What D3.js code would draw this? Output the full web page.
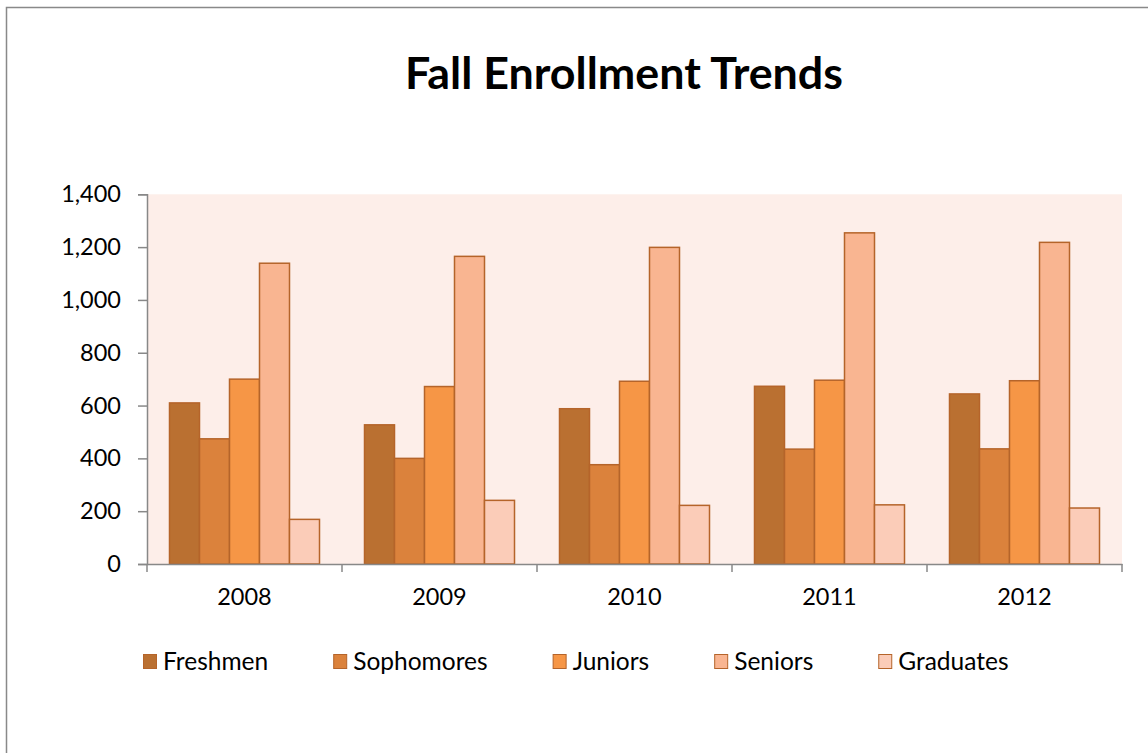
<!DOCTYPE html>
<html>
<head>
<meta charset="utf-8">
<script src="https://cdn.jsdelivr.net/npm/d3@7"></script>
<style>
  html, body { margin: 0; padding: 0; background: #ffffff; }
  svg { display: block; }
  text { font-family: Lato, "Open Sans", sans-serif; fill: #000; }
</style>
</head>
<body>
<svg id="chart" width="1148" height="753"></svg>
<script>
const title = "Fall Enrollment Trends";
const years = ["2008", "2009", "2010", "2011", "2012"];
const seriesNames = ["Freshmen", "Sophomores", "Juniors", "Seniors", "Graduates"];
const freshmen   = [610, 527, 588, 673, 644];
const sophomores = [474, 400, 376, 435, 436];
const juniors    = [700, 672, 692, 696, 694];
const seniors    = [1139, 1165, 1199, 1254, 1218];
const graduates  = [169, 241, 222, 224, 212];
const yTicks = [0, 200, 400, 600, 800, 1000, 1200, 1400];
const seriesColors = ["#BA7031", "#DB823C", "#F69646", "#F9B591", "#FBCCB8"];

const seriesValues = [freshmen, sophomores, juniors, seniors, graduates];

(function () {
const svg = d3.select("#chart");

// outer chart border
svg.append("rect")
  .attr("x", 6.5).attr("y", 7.5)
  .attr("width", 1170).attr("height", 780)
  .attr("fill", "none").attr("stroke", "#898989").attr("stroke-width", 1.5);

// title
const t = svg.append("text")
  .attr("x", 624).attr("y", 89)
  .attr("text-anchor", "middle")
  .style("font-weight", "bold")
  .style("font-size", "38px")
  .text(title);
const tw = t.node().getComputedTextLength();
t.style("font-size", (38 * 438 / tw).toFixed(2) + "px");

const pLeft = 147, pRight = 1122, pTop = 194.3, pBottom = 564;

const x0 = d3.scaleBand().domain(years).range([pLeft, pRight]).paddingInner(0).paddingOuter(0);
const x1 = d3.scaleBand().domain(seriesNames).range([0, x0.bandwidth()]).paddingInner(0).paddingOuter(0.75);
const y = d3.scaleLinear().domain([0, 1400]).range([pBottom, pTop]);

// plot background
svg.append("rect")
  .attr("x", pLeft).attr("y", pTop)
  .attr("width", pRight - pLeft).attr("height", pBottom - pTop)
  .attr("fill", "#FDEEE9");

// bars
const groups = svg.append("g").selectAll("g")
  .data(years)
  .join("g")
  .attr("transform", d => `translate(${x0(d)},0)`);

groups.selectAll("rect")
  .data((yr, i) => seriesNames.map((s, j) => ({ s, j, v: seriesValues[j][i] })))
  .join("rect")
  .attr("x", d => x1(d.s))
  .attr("y", d => y(d.v))
  .attr("width", x1.bandwidth())
  .attr("height", d => y(0) - y(d.v))
  .attr("fill", d => seriesColors[d.j])
  .attr("stroke", "#B5642A")
  .attr("stroke-width", 1.5);

// y axis
const yAxis = d3.axisLeft(y).tickValues(yTicks).tickSize(9).tickPadding(17)
  .tickFormat(d3.format(","));
const gy = svg.append("g").attr("transform", `translate(${pLeft},0)`).call(yAxis);
gy.select(".domain").attr("stroke", "#888").attr("stroke-width", 1.5);
gy.selectAll(".tick line").attr("stroke", "#888").attr("stroke-width", 1.5);
gy.selectAll(".tick text").style("font-size", "23.5px").style("font-family", "Lato, sans-serif").attr("fill", "#000");

// x axis with ticks at category boundaries
const xAxis = d3.axisBottom(x0).tickSize(0).tickPadding(24);
const gx = svg.append("g").attr("transform", `translate(0,${pBottom})`).call(xAxis);
gx.select(".domain").attr("stroke", "#888").attr("stroke-width", 1.5);
gx.selectAll(".tick text").style("font-size", "23.5px").style("font-family", "Lato, sans-serif").attr("fill", "#000");
const boundaries = years.map(d => x0(d)).concat([x0(years[years.length - 1]) + x0.bandwidth()]);
gx.selectAll("line.bt").data(boundaries).join("line")
  .attr("class", "bt")
  .attr("x1", d => d).attr("x2", d => d)
  .attr("y1", 0).attr("y2", 8)
  .attr("stroke", "#888").attr("stroke-width", 1.5);

// legend
const legend = svg.append("g").attr("transform", "translate(143,654)");
let lx = 0;
seriesNames.forEach((name, j) => {
  const g = legend.append("g").attr("transform", `translate(${lx},0)`);
  g.append("rect").attr("x", 0.5).attr("y", 0.5).attr("width", 13).attr("height", 14)
    .attr("fill", seriesColors[j]).attr("stroke", "#B5642A").attr("stroke-width", 1);
  const tx = g.append("text").attr("x", 20).attr("y", 16)
    .style("font-size", "24.5px").text(name);
  const w = tx.node().getComputedTextLength();
  lx += 20 + w + 65;
});
})();
</script>
</body>
</html>
